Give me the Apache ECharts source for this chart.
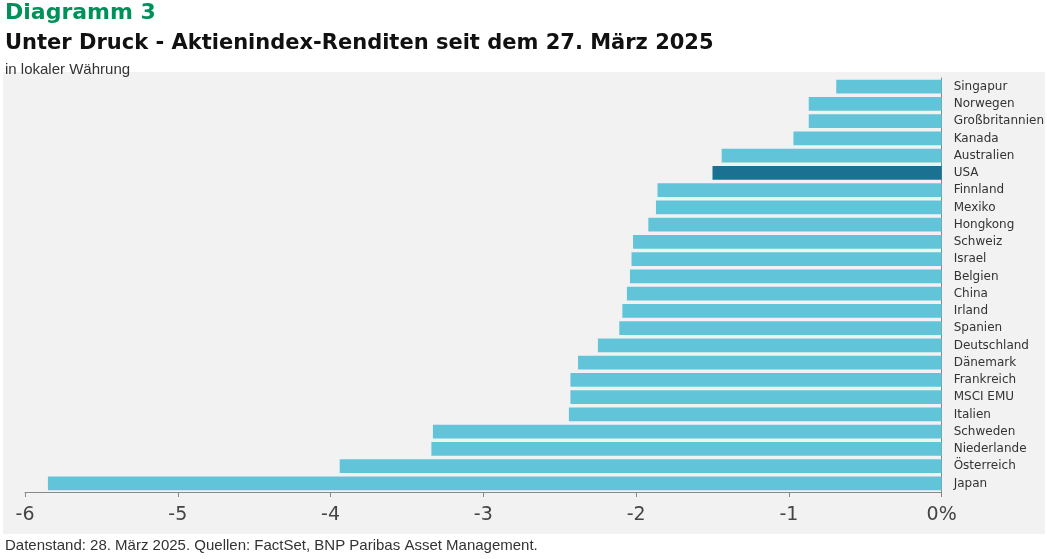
<!DOCTYPE html><html><head><meta charset="utf-8"><script src="https://cdn.jsdelivr.net/npm/echarts@6/dist/echarts.min.js"></script>
<style>body{margin:0}#c{width:1047px;height:559px}</style></head><body><div id="c"></div><script>
const categories=["Singapur","Norwegen","Großbritannien","Kanada","Australien","USA","Finnland","Mexiko","Hongkong","Schweiz","Israel","Belgien","China","Irland","Spanien","Deutschland","Dänemark","Frankreich","MSCI EMU","Italien","Schweden","Niederlande","Österreich","Japan"];
const values=[-0.69,-0.87,-0.87,-0.97,-1.44,-1.50,-1.86,-1.87,-1.92,-2.02,-2.03,-2.04,-2.06,-2.09,-2.11,-2.25,-2.38,-2.43,-2.43,-2.44,-3.33,-3.34,-3.94,-5.85];
const tickLabels={"-6":"-6","-5":"-5","-4":"-4","-3":"-3","-2":"-2","-1":"-1","0":"0%"};
const ch=echarts.init(document.getElementById('c'));
ch.setOption({
graphic:[{type:'rect',z:-10,shape:{x:3,y:72,width:1042,height:462},style:{fill:'#f2f2f2'}},
{type:'text',left:5,top:2,style:{text:'Diagramm 3',fill:'#00915a',font:'bold 22px "DejaVu Sans"'}},
{type:'text',left:5,top:33,style:{text:'Unter Druck - Aktienindex-Renditen seit dem 27. März 2025',fill:'#111',font:'bold 21px "DejaVu Sans"'}},
{type:'text',left:5,top:62,style:{text:'in lokaler Währung',fill:'#333',font:'15px "Liberation Sans"'}},
{type:'text',left:5,top:538,style:{text:'Datenstand: 28. März 2025. Quellen: FactSet, BNP Paribas Asset Management.',fill:'#333',font:'15px "Liberation Sans"'}}],
grid:{left:25,right:103,top:78,bottom:67},
xAxis:{type:'value',min:-6,max:0,interval:1,splitLine:{show:false},axisLine:{show:true,lineStyle:{color:'#888'}},axisTick:{show:true,length:5,lineStyle:{color:'#888'}},
axisLabel:{formatter:v=>tickLabels[String(v)],fontSize:19,color:'#444',margin:14,fontFamily:'DejaVu Sans'}},
yAxis:{type:'category',inverse:true,data:categories,position:'right',axisLine:{show:true,lineStyle:{color:'#888'}},axisTick:{show:false},
axisLabel:{fontSize:12,color:'#333',margin:12,fontFamily:'DejaVu Sans'}},
series:[{type:'bar',barCategoryGap:'20%',data:values.map((v,i)=>({value:v,itemStyle:{color:categories[i]==='USA'?'#1a7191':'#62c4d9'}}))}]
});
</script></body></html>
